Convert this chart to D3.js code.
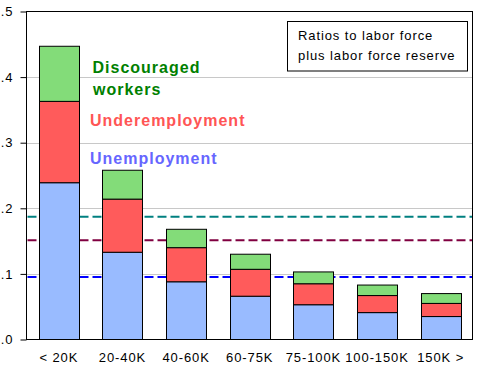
<!DOCTYPE html>
<html><head><meta charset="utf-8">
<script src="https://cdn.jsdelivr.net/npm/d3@7"></script>
<style>body{margin:0;background:#fff}svg{display:block}</style>
</head><body>
<svg id="c" width="481" height="367"></svg>
<script>
const categories = ["< 20K","20-40K","40-60K","60-75K","75-100K","100-150K","150K >"];
const unemployment = [0.239,0.133,0.088,0.066,0.053,0.041,0.035];
const underemployment = [0.124,0.081,0.052,0.041,0.032,0.026,0.020];
const discouraged = [0.084,0.044,0.028,0.023,0.018,0.016,0.015];
const seriesNames = ["Unemployment","Underemployment","Discouraged workers"];
const refLines = [0.0954, 0.1514, 0.187];
const refColors = ["#0000ff","#800040","#008080"];
const yTicks = [0,0.1,0.2,0.3,0.4,0.5];
const yTickLabels = [".0",".1",".2",".3",".4",".5"];
const boxLines = ["Ratios to labor force","plus labor force reserve"];

const svg = d3.select("#c");
const L=26.5, R=472.5, T=11.5, B=339.5;
const x = d3.scaleBand().domain(categories).range([L+0.5,R]).paddingInner(0.37).paddingOuter(0.185);
const y = d3.scaleLinear().domain([0,0.5]).range([B,T]);
const font = "'Liberation Sans', Arial, sans-serif";

// gridlines
svg.append("g").selectAll("line").data(yTicks.slice(1,5)).join("line")
  .attr("x1",L).attr("x2",R).attr("y1",d=>Math.round(y(d))+0.5).attr("y2",d=>Math.round(y(d))+0.5)
  .attr("stroke","#c8c8c8").attr("stroke-width",1);

// reference dashed lines
svg.append("g").selectAll("line").data(refLines).join("line")
  .attr("x1",L+1).attr("x2",R-0.5).attr("y1",d=>y(d)).attr("y2",d=>y(d))
  .attr("stroke",(d,i)=>refColors[i]).attr("stroke-width",2).attr("stroke-dasharray","9,4");

// stacked bars
const rows = categories.map((c,i)=>({cat:c,u:unemployment[i],ue:underemployment[i],d:discouraged[i]}));
const stack = d3.stack().keys(["u","ue","d"])(rows);
const colors = ["#99bbff","#ff5b5b","#83dc79"];
svg.append("g").selectAll("g").data(stack).join("g").attr("fill",(d,i)=>colors[i])
  .selectAll("rect").data(d=>d).join("rect")
  .attr("x",d=>Math.round(x(d.data.cat))+0.5).attr("width",Math.round(x.bandwidth()))
  .attr("y",d=>y(d[1])).attr("height",d=>y(d[0])-y(d[1]))
  .attr("stroke","#000").attr("stroke-width",1);

// frame
svg.append("rect").attr("x",L).attr("y",T).attr("width",R-L).attr("height",B-T)
  .attr("fill","none").attr("stroke","#000").attr("stroke-width",1);

// y axis
const ya = svg.append("g").attr("transform",`translate(${L},0)`)
  .call(d3.axisLeft(y).tickValues(yTicks).tickFormat((d,i)=>yTickLabels[i]).tickSize(6).tickPadding(7));
ya.select(".domain").remove();
ya.selectAll("line").attr("stroke","#000");
ya.selectAll("text").attr("font-family",font).attr("font-size",13).attr("fill","#000").style("letter-spacing","0.9px");

// x axis
const xa = svg.append("g").attr("transform",`translate(0,${B})`)
  .call(d3.axisBottom(x).tickSize(0).tickPadding(10));
xa.select(".domain").remove();
xa.selectAll("text").attr("font-family",font).attr("font-size",13).attr("fill","#000").style("letter-spacing","0.9px")
  .attr("dy","0.95em");

// series labels
const lab = svg.append("g").attr("font-family",font).attr("font-weight","bold").attr("font-size",16).style("letter-spacing","1px");
lab.append("text").attr("x",92.5).attr("y",72.5).attr("fill","#008000").text("Discouraged");
lab.append("text").attr("x",93).attr("y",95).attr("fill","#008000").text("workers");
lab.append("text").attr("x",90).attr("y",126).attr("fill","#ff5555").text(seriesNames[1]);
lab.append("text").attr("x",90).attr("y",164).attr("fill","#6666ff").text(seriesNames[0]);

// note box
svg.append("rect").attr("x",287.5).attr("y",21.5).attr("width",180).attr("height",49.5)
  .attr("fill","#fff").attr("stroke","#000").attr("stroke-width",1);
svg.append("g").selectAll("text").data(boxLines).join("text")
  .attr("x",298).attr("y",(d,i)=>40+i*19.5).attr("font-family",font).attr("font-size",13)
  .style("letter-spacing","0.9px").attr("fill","#000").text(d=>d);
</script>
</body></html>
